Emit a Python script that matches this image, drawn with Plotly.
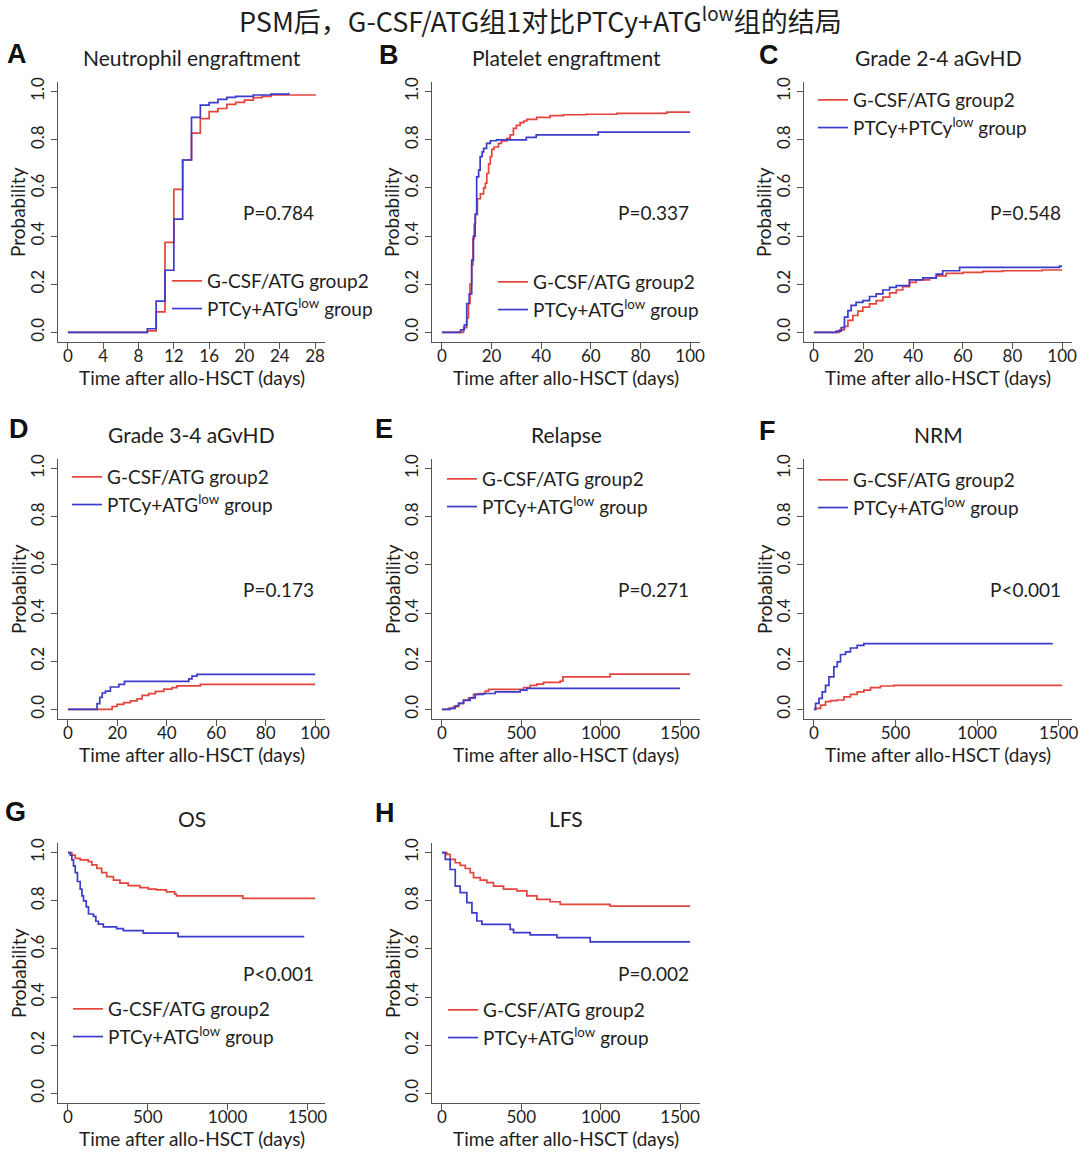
import plotly.graph_objects as go

# ---------------- data ----------------
A_red_t = [0, 9, 10, 11, 12, 13, 14, 15, 16, 17, 18, 19, 20, 21, 22, 23, 28]
A_red_p = [0, 0.006, 0.085, 0.374, 0.594, 0.716, 0.828, 0.888, 0.917, 0.93, 0.947, 0.955, 0.965, 0.975, 0.98, 0.986, 0.988]
A_blue_t = [0, 9, 10, 11, 12, 13, 14, 15, 16, 17, 18, 19, 21, 23, 25]
A_blue_p = [0, 0.015, 0.13, 0.258, 0.47, 0.716, 0.893, 0.944, 0.954, 0.968, 0.976, 0.98, 0.986, 0.99, 0.995]

B_red_t = [0, 8.7, 10, 10.7, 11.3, 12, 12.5, 13, 13.5, 14.3, 15.5, 16.8, 17.5, 18.1, 18.8, 19.5, 20.1, 21,
           22.8, 24, 26.2, 27.5, 28.8, 30, 31.5, 33, 34.2, 38.2, 43.6, 49, 58, 70.5, 90.6, 100]
B_red_p = [0, 0.02, 0.06, 0.12, 0.2, 0.28, 0.39, 0.45, 0.49, 0.555, 0.575, 0.6, 0.62, 0.66, 0.7, 0.73, 0.76, 0.77,
           0.785, 0.795, 0.806, 0.82, 0.847, 0.86, 0.871, 0.878, 0.885, 0.893, 0.9, 0.904, 0.906, 0.91, 0.915, 0.915]
B_blue_t = [0, 7.5, 9, 10, 11, 12, 12.7, 13.4, 14, 14.8, 15.4, 16.2, 16.8, 18, 19.5, 22, 34, 38, 63, 100]
B_blue_p = [0, 0.01, 0.03, 0.12, 0.16, 0.3, 0.4, 0.49, 0.646, 0.674, 0.73, 0.75, 0.764, 0.785, 0.796, 0.8, 0.81,
            0.82, 0.832, 0.832]

C_red_t = [0, 10.3, 12.3, 13.7, 15.7, 17.7, 19.7, 22.4, 25.1, 27.8, 30.5, 33.2, 35.8, 38.5, 41.2, 46.6, 49.3,
           53.3, 60, 68, 76, 92, 100]
C_red_p = [0, 0.01, 0.025, 0.05, 0.07, 0.088, 0.105, 0.118, 0.132, 0.146, 0.164, 0.176, 0.19, 0.208, 0.218, 0.226,
           0.235, 0.245, 0.249, 0.253, 0.256, 0.259, 0.259]
C_blue_t = [0, 9, 11, 12.3, 13.7, 15, 17, 19.7, 22.4, 25.1, 27.8, 30.5, 33.2, 38.5, 43.9, 49.3, 51.9, 58.7, 99, 100]
C_blue_p = [0, 0.005, 0.02, 0.063, 0.09, 0.112, 0.125, 0.132, 0.149, 0.16, 0.176, 0.187, 0.194, 0.218, 0.226, 0.242,
            0.256, 0.27, 0.275, 0.275]

D_red_t = [0, 17.9, 19.9, 22.6, 25.3, 28, 30, 32.7, 35.4, 38.8, 42.1, 44.1, 53.6, 100]
D_red_p = [0, 0.012, 0.021, 0.028, 0.035, 0.044, 0.058, 0.065, 0.075, 0.084, 0.09, 0.098, 0.104, 0.104]
D_blue_t = [0, 11.8, 12.9, 13.9, 15.2, 17.2, 20.6, 22.9, 48.9, 50.2, 52.2, 100]
D_blue_p = [0, 0.024, 0.05, 0.068, 0.076, 0.093, 0.104, 0.116, 0.127, 0.138, 0.145, 0.145]

E_red_t = [0, 42, 73, 105, 136, 168, 199, 231, 273, 294, 514, 556, 598, 640, 745, 762, 1059, 1563]
E_red_p = [0, 0.004, 0.011, 0.025, 0.039, 0.048, 0.062, 0.066, 0.076, 0.083, 0.09, 0.1, 0.105, 0.112, 0.117,
           0.135, 0.146, 0.146]
E_blue_t = [0, 52, 84, 105, 136, 178, 210, 262, 336, 493, 535, 1500]
E_blue_p = [0, 0.004, 0.015, 0.025, 0.037, 0.048, 0.062, 0.066, 0.073, 0.08, 0.087, 0.087]

F_red_t = [0, 10, 41, 71, 102, 143, 184, 224, 265, 306, 347, 408, 490, 1521]
F_red_p = [0, 0.004, 0.018, 0.032, 0.036, 0.039, 0.052, 0.062, 0.073, 0.08, 0.09, 0.097, 0.1, 0.1]
F_blue_t = [0, 10, 31, 51, 71, 92, 122, 143, 163, 194, 224, 265, 306, 1459]
F_blue_p = [0, 0.025, 0.046, 0.073, 0.1, 0.135, 0.177, 0.197, 0.228, 0.239, 0.255, 0.266, 0.273, 0.276]

G_red_t = [0, 25, 46, 77, 128, 150, 181, 212, 243, 285, 326, 378, 451, 503, 555, 617, 669, 680, 1095, 1548]
G_red_p = [1, 0.99, 0.976, 0.97, 0.963, 0.949, 0.935, 0.917, 0.9, 0.886, 0.873, 0.863, 0.855, 0.848, 0.845,
           0.837, 0.828, 0.82, 0.81, 0.81]
G_blue_t = [0, 15, 25, 35, 46, 60, 77, 88, 98, 115, 129, 160, 175, 191, 222, 305, 347, 472, 690, 1480]
G_blue_p = [1, 0.99, 0.97, 0.945, 0.917, 0.88, 0.848, 0.82, 0.8, 0.775, 0.745, 0.735, 0.715, 0.703, 0.692,
            0.684, 0.676, 0.666, 0.651, 0.651]

H_red_t = [0, 31, 52, 84, 115, 147, 178, 199, 241, 283, 325, 388, 472, 535, 598, 682, 745, 1059, 1563]
H_red_p = [1, 0.993, 0.972, 0.958, 0.947, 0.934, 0.917, 0.896, 0.886, 0.875, 0.861, 0.848, 0.841, 0.82, 0.806,
           0.796, 0.785, 0.778, 0.778]
H_blue_t = [0, 21, 52, 84, 115, 157, 189, 220, 252, 430, 451, 556, 724, 934, 1563]
H_blue_p = [1, 0.972, 0.93, 0.861, 0.834, 0.792, 0.75, 0.716, 0.702, 0.681, 0.668, 0.658, 0.647, 0.629, 0.629]

panel_letters = ["A", "B", "C", "D", "E", "F", "G", "H"]
panel_titles = ["Neutrophil engraftment", "Platelet engraftment", "Grade 2-4 aGvHD", "Grade 3-4 aGvHD",
                "Relapse", "NRM", "OS", "LFS"]
p_values = ["P=0.784", "P=0.337", "P=0.548", "P=0.173", "P=0.271", "P<0.001", "P<0.001", "P=0.002"]
x_tick_sets = [[0, 4, 8, 12, 16, 20, 24, 28], [0, 20, 40, 60, 80, 100], [0, 20, 40, 60, 80, 100],
               [0, 20, 40, 60, 80, 100], [0, 500, 1000, 1500], [0, 500, 1000, 1500],
               [0, 500, 1000, 1500], [0, 500, 1000, 1500]]
y_ticks = [0, 0.2, 0.4, 0.6, 0.8, 1.0]
red_name = "G-CSF/ATG group2"
blue_names = ["PTCy+ATG<sup>low</sup> group", "PTCy+ATG<sup>low</sup> group", "PTCy+PTCy<sup>low</sup> group",
              "PTCy+ATG<sup>low</sup> group", "PTCy+ATG<sup>low</sup> group", "PTCy+ATG<sup>low</sup> group",
              "PTCy+ATG<sup>low</sup> group", "PTCy+ATG<sup>low</sup> group"]
x_title = "Time after allo-HSCT (days)"
y_title = "Probability"
main_title = "PSM后，G-CSF/ATG组1对比PTCy+ATG<sup>low</sup>组的结局"

series = [
    (A_red_t, A_red_p, A_blue_t, A_blue_p),
    (B_red_t, B_red_p, B_blue_t, B_blue_p),
    (C_red_t, C_red_p, C_blue_t, C_blue_p),
    (D_red_t, D_red_p, D_blue_t, D_blue_p),
    (E_red_t, E_red_p, E_blue_t, E_blue_p),
    (F_red_t, F_red_p, F_blue_t, F_blue_p),
    (G_red_t, G_red_p, G_blue_t, G_blue_p),
    (H_red_t, H_red_p, H_blue_t, H_blue_p),
]

# ---------------- layout geometry (pixels) ----------------
W, H = 1080, 1153
COLS = [(58, 325), (432, 700), (804, 1072)]
ROWS = [(82, 342), (459, 719), (843, 1103)]
# legend text start x (px) and legend middle y (px)
legend_pos = [(207, 295), (533, 296), (853, 114), (107, 491), (482, 493), (853, 494), (108, 1023), (483, 1024)]
letter_pos = [(5, 54), (377, 55), (757, 55), (7, 429), (373, 429), (757, 431), (3, 812), (373, 813)]

RED = "#e5443d"
BLUE = "#3b3bcc"
AX = "#555555"
TXT = "#1e1e1e"
FONT = "Lato, 'Open Sans', sans-serif"


def fx(px):
    return px / W


def fy(py):
    return 1 - py / H


fig = go.Figure()
annotations = []
layout = dict(width=W, height=H, autosize=False, margin=dict(l=0, r=0, t=0, b=0, pad=0),
              paper_bgcolor="white", plot_bgcolor="white", showlegend=True)

for i, (rt, rp, bt, bp) in enumerate(series):
    r, c = divmod(i, 3)
    L, R = COLS[c]
    T, B = ROWS[r]
    k = "" if i == 0 else str(i + 1)
    xa, ya = "x" + k, "y" + k
    leg = "legend" + k
    tmax = max(max(rt), max(bt))
    layout["xaxis" + k] = dict(domain=[fx(L), fx(R)], anchor=ya, range=[-0.04 * tmax, 1.04 * tmax],
                               tickvals=x_tick_sets[i], showgrid=False, zeroline=False, showline=True,
                               linecolor=AX, linewidth=1, ticks="outside", ticklen=6, tickcolor=AX,
                               ticklabelstandoff=-7,
                               tickfont=dict(family=FONT, size=17, color=TXT), fixedrange=True,
                               automargin=False)
    layout["yaxis" + k] = dict(domain=[fy(B), fy(T)], anchor=xa, range=[-0.04, 1.04],
                               tickvals=y_ticks, tickformat=".1f", tickangle=-90, showgrid=False,
                               zeroline=False, showline=True, linecolor=AX, linewidth=1, ticks="outside",
                               ticklen=6, tickcolor=AX, tickfont=dict(family=FONT, size=17, color=TXT),
                               fixedrange=True, automargin=False)
    tx, my = legend_pos[i]
    layout[leg] = dict(x=fx(tx - 40), y=fy(my), xanchor="left", yanchor="middle",
                       bgcolor="rgba(0,0,0,0)", font=dict(family=FONT, size=19, color=TXT),
                       tracegroupgap=0, itemclick=False, itemdoubleclick=False)
    fig.add_trace(go.Scatter(x=rt, y=rp, mode="lines", line=dict(color=RED, width=1.7, shape="hv"),
                             name=red_name, xaxis=xa, yaxis=ya, legend=leg, hoverinfo="skip"))
    fig.add_trace(go.Scatter(x=bt, y=bp, mode="lines", line=dict(color=BLUE, width=1.7, shape="hv"),
                             name=blue_names[i], xaxis=xa, yaxis=ya, legend=leg, hoverinfo="skip"))
    cx = (L + R) / 2
    # panel title
    annotations.append(dict(text=panel_titles[i], x=fx(cx), y=fy(T - 25), xref="paper", yref="paper",
                            xanchor="center", yanchor="middle", showarrow=False,
                            font=dict(family=FONT, size=21, color=TXT)))
    # panel letter
    lx, ly = letter_pos[i]
    annotations.append(dict(text="<b>%s</b>" % panel_letters[i], x=fx(lx), y=fy(ly), xref="paper",
                            yref="paper", xanchor="left", yanchor="middle", showarrow=False,
                            font=dict(family="'Liberation Sans', Arial, sans-serif", size=27, color="#111")))
    # axis titles
    annotations.append(dict(text=x_title, x=fx(cx), y=fy(B + 35), xref="paper", yref="paper",
                            xanchor="center", yanchor="middle", showarrow=False,
                            font=dict(family=FONT, size=19, color=TXT)))
    annotations.append(dict(text=y_title, x=fx(L - 40), y=fy((T + B) / 2), xref="paper", yref="paper",
                            xanchor="center", yanchor="middle", textangle=-90, showarrow=False,
                            font=dict(family=FONT, size=19, color=TXT)))
    # p value
    annotations.append(dict(text=p_values[i], x=fx(R - 9), y=0.5, xref="paper", yref=ya,
                            xanchor="right", yanchor="middle", showarrow=False,
                            font=dict(family=FONT, size=19, color=TXT)))

annotations.append(dict(text=main_title, x=0.5, y=fy(20), xref="paper", yref="paper", xanchor="center",
                        yanchor="middle", showarrow=False,
                        font=dict(family="'Liberation Sans Narrow', 'Noto Sans CJK SC', sans-serif",
                                  size=27, color=TXT)))
layout["annotations"] = annotations
fig.update_layout(**layout)
fig.write_html("out.html", config={"displayModeBar": False},
               post_script="document.body.style.margin='0';")
